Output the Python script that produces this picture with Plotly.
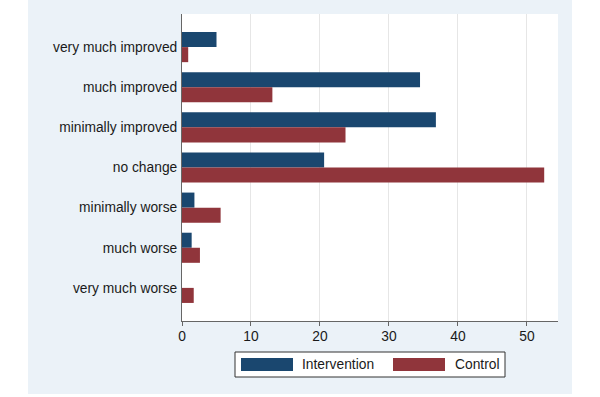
import plotly.graph_objects as go

categories = ["very much improved", "much improved", "minimally improved", "no change",
              "minimally worse", "much worse", "very much worse"]
intervention = [5.0, 34.5, 36.8, 20.6, 1.8, 1.4, 0.0]
control = [0.9, 13.1, 23.7, 52.5, 5.6, 2.6, 1.7]
x_ticks = [0, 10, 20, 30, 40, 50]
series_names = ["Intervention", "Control"]

BLUE = "#1a476f"
RED = "#90353b"
FONT = "Liberation Sans, Arial, sans-serif"
FS = 13.8
TXT = "#1a1a1a"

fig = go.Figure()
fig.add_trace(go.Bar(y=categories, x=intervention, orientation="h", name=series_names[0],
                     marker=dict(color=BLUE, line=dict(width=0)), showlegend=False))
fig.add_trace(go.Bar(y=categories, x=control, orientation="h", name=series_names[1],
                     marker=dict(color=RED, line=dict(width=0)), showlegend=False))

W, H = 600, 397
L, R, T, B = 182, 558, 14, 321
pw, ph = R - L, B - T

def px(x):
    return (x - L) / pw

def py(y):
    return (B - y) / ph

shapes = [
    dict(type="rect", xref="paper", yref="paper", x0=px(28), x1=px(572), y0=py(394), y1=py(0),
         fillcolor="#ebf2f8", line=dict(width=0), layer="below"),
    dict(type="rect", xref="paper", yref="paper", x0=0, x1=1, y0=0, y1=1,
         fillcolor="white", line=dict(width=0), layer="below"),
    # legend box
    dict(type="rect", xref="paper", yref="paper", x0=px(235), x1=px(505), y0=py(377), y1=py(352),
         fillcolor="white", line=dict(color="#333333", width=1)),
    dict(type="rect", xref="paper", yref="paper", x0=px(241), x1=px(293), y0=py(371), y1=py(358),
         fillcolor=BLUE, line=dict(width=0)),
    dict(type="rect", xref="paper", yref="paper", x0=px(393), x1=px(445), y0=py(371), y1=py(358),
         fillcolor=RED, line=dict(width=0)),
]
annotations = [
    dict(xref="paper", yref="paper", x=px(300), y=py(364.5), text=series_names[0], showarrow=False,
         xanchor="left", yanchor="middle", font=dict(family=FONT, size=FS, color=TXT)),
    dict(xref="paper", yref="paper", x=px(453), y=py(364.5), text=series_names[1], showarrow=False,
         xanchor="left", yanchor="middle", font=dict(family=FONT, size=FS, color=TXT)),
]

fig.update_layout(
    width=W, height=H,
    margin=dict(l=L, r=W - R, t=T, b=H - B, pad=0, autoexpand=False),
    paper_bgcolor="white",
    plot_bgcolor="rgba(0,0,0,0)",
    barmode="group",
    bargap=0.25,
    bargroupgap=0,
    shapes=shapes,
    annotations=annotations,
    font=dict(family=FONT, size=FS, color=TXT),
    xaxis=dict(range=[0, 54.5], tickvals=x_ticks, ticks="outside", ticklen=4, tickcolor="#666666",
               showline=True, linecolor="#666666", linewidth=1, showgrid=True, gridcolor="#e6e6e6",
               zeroline=False, ticklabelstandoff=-2,
               tickfont=dict(family=FONT, size=FS, color=TXT)),
    yaxis=dict(categoryorder="array", categoryarray=categories, range=[6.825, -0.825],
               showline=True, linecolor="#666666", linewidth=1, ticks="", showgrid=False,
               zeroline=False, ticklabelstandoff=1,
               tickfont=dict(family=FONT, size=FS, color=TXT)),
)

fig.write_html("out.html", post_script="document.body.style.margin='0';",
               config={"displayModeBar": False})
